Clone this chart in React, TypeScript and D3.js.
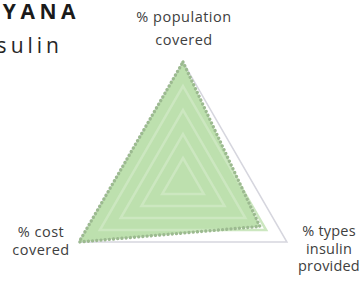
import React, { useRef, useEffect } from 'react';
import * as d3 from 'd3';

const axes = ['% population covered', '% types insulin provided', '% cost covered'];
const axisLabels: string[][] = [['% population', 'covered'], ['% types', 'insulin', 'provided'], ['% cost', 'covered']];
const values = [1.0, 0.74, 1.0];
const levels = [0.2, 0.4, 0.6, 0.8, 1.0];

const W = 363;
const H = 281;

const App: React.FC = () => {
  const svgRef = useRef<SVGSVGElement>(null);

  useEffect(() => {
    if (!svgRef.current) return;
    const svg = d3.select(svgRef.current);
    svg.selectAll('*').remove();

    const cx = 183;
    const cy = 182;
    const R = 120;
    const r = d3.scaleLinear().domain([0, 1]).range([0, R]);
    const angle = (i: number) => (i * 2 * Math.PI) / axes.length;

    const radial = d3.lineRadial<number>()
      .angle((_, i) => angle(i))
      .radius(d => r(d))
      .curve(d3.curveLinearClosed);

    const g = svg.append('g').attr('transform', `translate(${cx},${cy})`);

    // outer grid ring, behind the area
    g.append('path')
      .attr('d', radial(axes.map(() => 1)))
      .attr('fill', 'none')
      .attr('stroke', '#d6d6de')
      .attr('stroke-width', 1.5);

    // data area
    g.append('path')
      .attr('d', radial(values))
      .attr('fill', '#bde0ae');

    // inner grid rings showing through the fill
    g.selectAll('.ring')
      .data(levels.slice(0, -1))
      .enter()
      .append('path')
      .attr('class', 'ring')
      .attr('d', lv => radial(axes.map(() => lv)))
      .attr('fill', 'none')
      .attr('stroke', '#cce7c0')
      .attr('stroke-width', 2.5);

    // dotted border
    g.append('path')
      .attr('d', radial(values))
      .attr('fill', 'none')
      .attr('stroke', '#9cba90')
      .attr('stroke-width', 3.4)
      .attr('stroke-linecap', 'round')
      .attr('stroke-dasharray', '0.01 4.2');

    // axis labels
    const labelPos = [
      { x: 184, y: 22 },
      { x: 329, y: 236 },
      { x: 41, y: 237 }
    ];
    axisLabels.forEach((lines, i) => {
      const t = svg.append('text')
        .attr('x', labelPos[i].x)
        .attr('y', labelPos[i].y)
        .attr('text-anchor', 'middle')
        .style('font-family', 'Open Sans, sans-serif')
        .style('font-size', '14.5px')
        .style('letter-spacing', i === 1 ? '0.2px' : '0.5px')
        .style('fill', '#404040');
      lines.forEach((s, j) => {
        t.append('tspan')
          .attr('x', labelPos[i].x)
          .attr('dy', j === 0 ? 0 : i === 0 ? 23 : 17.5)
          .text(s);
      });
    });

    // title (cropped at the left edge)
    svg.append('text')
      .attr('x', 80)
      .attr('y', 19)
      .attr('text-anchor', 'end')
      .style('font-family', 'Open Sans, sans-serif')
      .style('font-weight', 'bold')
      .style('font-size', '21px')
      .style('letter-spacing', '4.5px')
      .style('fill', '#1a1a1a')
      .text('GUYANA');

    svg.append('text')
      .attr('x', 63)
      .attr('y', 53)
      .attr('text-anchor', 'end')
      .style('font-family', 'Open Sans, sans-serif')
      .style('font-size', '21px')
      .style('letter-spacing', '4px')
      .style('fill', '#262626')
      .text('Insulin');
  }, []);

  return (
    <svg
      ref={svgRef}
      width={W}
      height={H}
      style={{ position: 'fixed', left: 0, top: 0, background: '#fff' }}
      viewBox={`0 0 ${W} ${H}`}
    />
  );
};

export default App;
